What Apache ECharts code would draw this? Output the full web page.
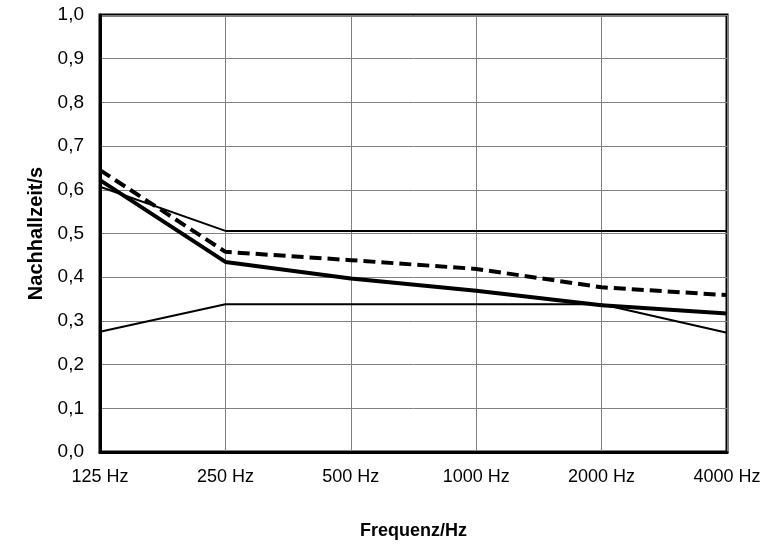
<!DOCTYPE html>
<html>
<head>
<meta charset="utf-8">
<script src="https://cdn.jsdelivr.net/npm/echarts@6/dist/echarts.min.js"></script>
<style>
html,body{margin:0;padding:0;background:#fff;}
#c{width:769px;height:549px;}
</style>
</head>
<body>
<div id="c"></div>
<script>
var categories = ['125 Hz', '250 Hz', '500 Hz', '1000 Hz', '2000 Hz', '4000 Hz'];
var upperLimit = [0.607, 0.506, 0.506, 0.506, 0.506, 0.506];
var lowerLimit = [0.275, 0.338, 0.338, 0.338, 0.338, 0.273];
var measuredSolid = [0.622, 0.435, 0.397, 0.369, 0.336, 0.317];
var measuredDashed = [0.645, 0.458, 0.439, 0.419, 0.377, 0.359];
var yTicks = { min: 0, max: 1, interval: 0.1 };

var chart = echarts.init(document.getElementById('c'), null, { renderer: 'canvas' });
var font = 'Liberation Sans, Arial, sans-serif';
function mk(name, data, width, type) {
  return {
    name: name, type: 'line', data: data, symbol: 'none', silent: true,
    lineStyle: { color: '#000', width: width, type: type || 'solid' },
    animation: false
  };
}
chart.setOption({
  animation: false,
  backgroundColor: '#fff',
  grid: { left: 100, right: 42, top: 15, bottom: 97, show: true, borderColor: '#000', borderWidth: 3, backgroundColor: 'transparent' },
  xAxis: {
    type: 'category', data: categories, boundaryGap: false,
    name: 'Frequenz/Hz', nameLocation: 'middle', nameGap: 70,
    nameTextStyle: { fontFamily: font, fontSize: 18, fontWeight: 'bold', color: '#000' },
    axisLine: { show: true, lineStyle: { color: '#000', width: 3 } },
    axisTick: { show: false },
    axisLabel: { color: '#000', fontFamily: font, fontSize: 18, margin: 16 },
    splitLine: { show: true, lineStyle: { color: '#808080', width: 1 } }
  },
  yAxis: {
    type: 'value', min: yTicks.min, max: yTicks.max, interval: yTicks.interval,
    name: 'Nachhallzeit/s', nameLocation: 'middle', nameGap: 47,
    nameTextStyle: { fontFamily: font, fontSize: 20, fontWeight: 'bold', color: '#000' },
    axisLine: { show: true, lineStyle: { color: '#000', width: 3 } },
    axisTick: { show: false },
    axisLabel: { color: '#000', fontFamily: font, fontSize: 19, margin: 16,
      formatter: function (v) { return v.toFixed(1).replace('.', ','); } },
    splitLine: { show: true, lineStyle: { color: '#808080', width: 1 } }
  },
  series: [
    mk('Obere Grenze', upperLimit, 2),
    mk('Untere Grenze', lowerLimit, 2),
    mk('Messung 1', measuredSolid, 4),
    mk('Messung 2', measuredDashed, 4, [12, 6])
  ]
});
</script>
</body>
</html>
